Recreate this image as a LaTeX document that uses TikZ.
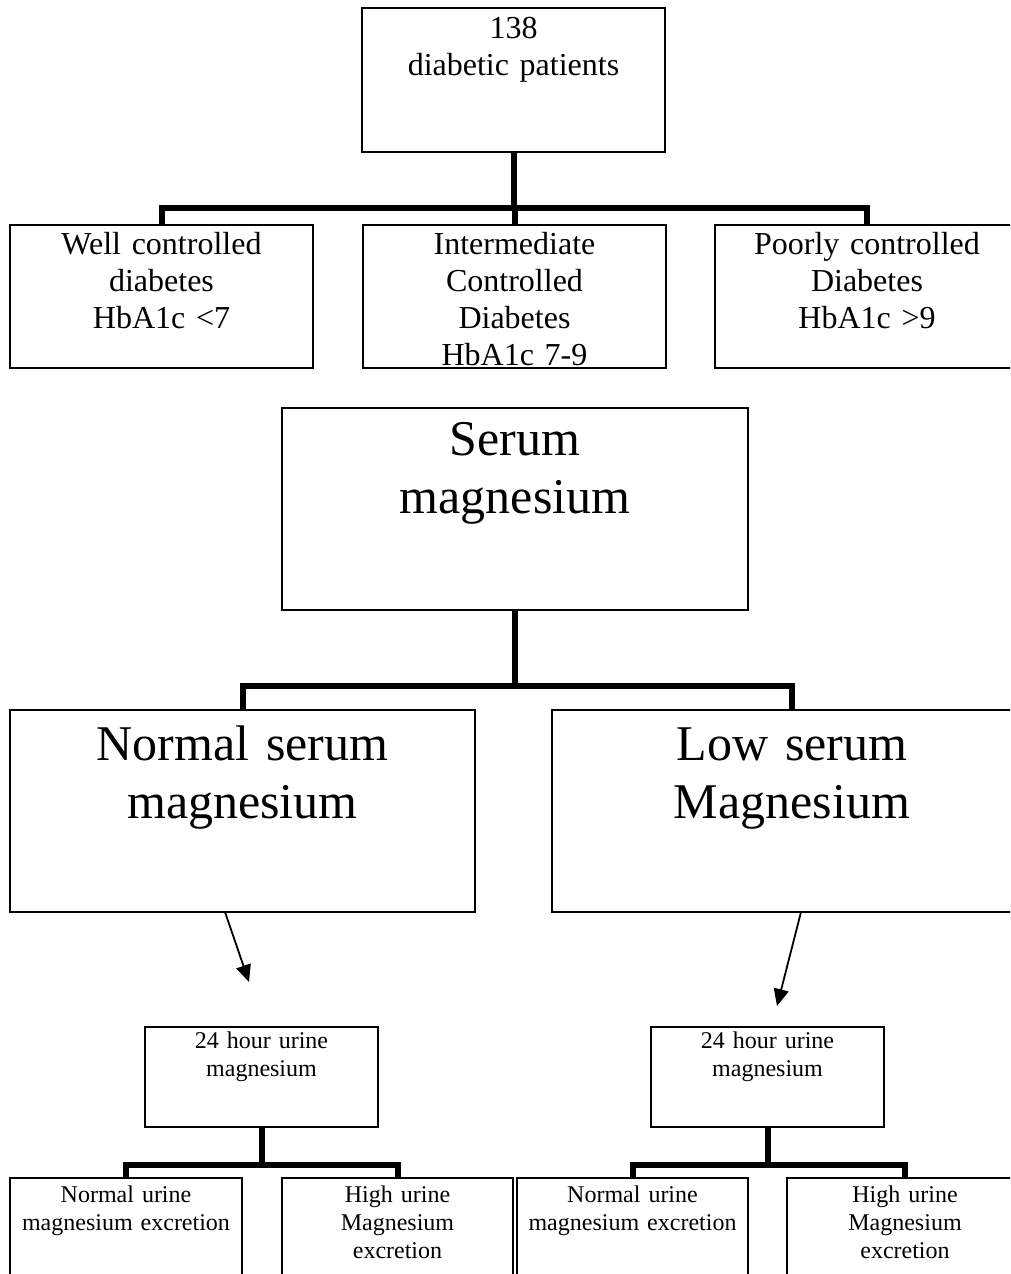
\documentclass[tikz,border=0pt]{standalone}
\usepackage{fontspec}
\setmainfont{Liberation Serif}
\usetikzlibrary{positioning}
\usetikzlibrary{arrows.meta}

\begin{document}
\begin{tikzpicture}[x = 1pt, y = -1pt]
  \tikzstyle{group}=[rectangle, draw = black, line width = 1.8pt, inner sep = 0pt, outer sep = 0pt, align = center, anchor = north west, node distance = 50pt]
  \tikzstyle{cohort}=[group, text width = 303pt, font = \fontsize{32}{37}\selectfont, text height = 30pt, text depth = 114pt]
  \tikzstyle{serum}=[group, font = \fontsize{50}{58}\selectfont]
  \tikzstyle{urine}=[group, font = \fontsize{24}{28}\selectfont]
  \tikzstyle{bar}=[line width = 6pt]
  \tikzstyle{connect}=[-{Triangle[length = 17pt, width = 15pt]}, line width = 1.8pt]

  \clip (0,0) rectangle (1010,1274);

  \node[cohort] (total) at (362,8) {138\\diabetic patients};
  \node[cohort, text height = 29pt] (well) at (10,225) {Well controlled\\diabetes\\HbA1c <7};
  \node[cohort, text height = 29pt] (inter) [right = 50pt of well] {Intermediate\\Controlled\\Diabetes\\HbA1c 7-9};
  \node[cohort, text height = 29pt, text width = 304pt] (poor) [right = 49pt of inter] {Poorly controlled\\Diabetes\\HbA1c >9};

  \node[serum, text width = 466pt, text height = 47pt, text depth = 155pt] (serummg) at (282,408) {Serum\\magnesium};
  \node[serum, text width = 465pt, text height = 50pt, text depth = 152pt] (normal) at (10,710) {Normal serum\\magnesium};
  \node[serum, text width = 480pt, text height = 50pt, text depth = 152pt] (low) [right = 77pt of normal] {Low serum\\Magnesium};

  \node[urine, text width = 233pt, text height = 21pt, text depth = 79pt] (urineN) at (145,1027) {24 hour urine\\magnesium};
  \node[urine, text width = 233pt, text height = 21pt, text depth = 79pt] (urineL) at (651,1027) {24 hour urine\\magnesium};

  \node[urine, text width = 232pt, text height = 24pt, text depth = 100pt] (normN) at (10,1178) {Normal urine\\magnesium excretion};
  \node[urine, text width = 231pt, text height = 24pt, text depth = 100pt] (highN) [right = 40pt of normN] {High urine\\Magnesium\\excretion};
  \node[urine, text width = 231pt, text height = 24pt, text depth = 100pt] (normL) at (517,1178) {Normal urine\\magnesium excretion};
  \node[urine, text width = 236pt, text height = 24pt, text depth = 100pt] (highL) [right = 39pt of normL] {High urine\\Magnesium\\excretion};

  \coordinate (tipN) at (249,982);
  \coordinate (tipL) at (777,1006);

  \draw[bar] (total.south) -- ++(0,56) coordinate (j1) -| (well.north);
  \draw[bar] (j1) -| (inter.north);
  \draw[bar] (j1) -| (poor.north);

  \draw[bar] (serummg.south) -- ++(0,76) coordinate (j2) -| (normal.north);
  \draw[bar] (j2) -| (low.north);

  \path ([xshift = -17.5pt]normal.south) edge [connect] (tipN)
        ([xshift = 9pt]low.south) edge [connect] (tipL);

  \draw[bar] (urineN.south) -- ++(0,38) coordinate (j3) -| (normN.north);
  \draw[bar] (j3) -| (highN.north);

  \draw[bar] (urineL.south) -- ++(0,38) coordinate (j4) -| (normL.north);
  \draw[bar] (j4) -| (highL.north);

\end{tikzpicture}
\end{document}
